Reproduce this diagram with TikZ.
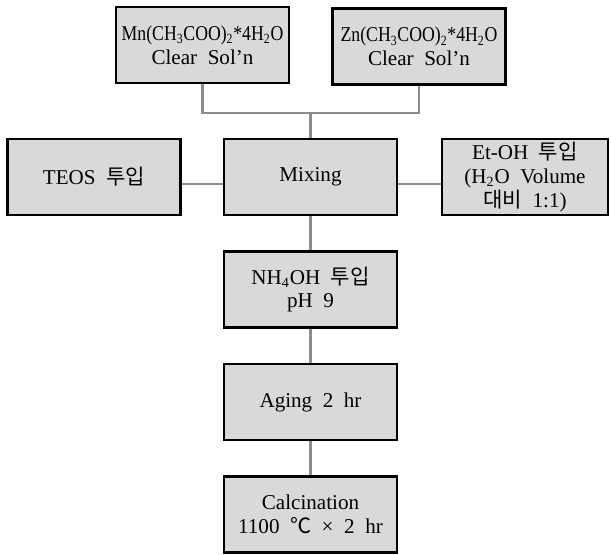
\documentclass[tikz,border=0pt]{standalone}
\usepackage{fontspec}
\usepackage{graphicx}
\setmainfont[WordSpace=2]{Liberation Serif}
\newfontfamily\cjk{Noto Sans CJK KR}
\usetikzlibrary{positioning,calc}
\definecolor{boxgray}{HTML}{D9D9D9}
\definecolor{linkgray}{HTML}{8C8C8C}
\tikzset{
    procbox/.style={draw, fill=boxgray, line width=1.2pt, minimum width=3.46cm, minimum height=1.52cm,
        align=center, inner sep=1pt, font=\fontsize{12}{13.5}\selectfont},
    link/.style={draw=linkgray, line width=1.2pt}
}

\begin{document}
\begin{tikzpicture}
    \useasboundingbox (0,0) rectangle (12.22,-11.08);

    \node[procbox] (mn) at (4.05,-0.9) {\scalebox{0.84}[1]{Mn(CH\textsubscript{3}COO)\textsubscript{2}*4H\textsubscript{2}O}\\Clear Sol’n};
    \node[procbox] (zn) at (8.38,-0.93) {\scalebox{0.84}[1]{Zn(CH\textsubscript{3}COO)\textsubscript{2}*4H\textsubscript{2}O}\\Clear Sol’n};
    \node[procbox] (teos) at (1.88,-3.54) {TEOS {\cjk 투입}};
    \node[procbox, minimum width=3.32cm] (etoh) at (10.5,-3.54) {Et-OH {\cjk 투입}\\(H\textsubscript{2}O Volume\\{\cjk 대비} 1:1)};

    \foreach \i/\txt in {0/Mixing, 1/{NH\textsubscript{4}OH {\cjk 투입}\\pH 9}, 2/Aging 2 hr, 3/{Calcination\\1100 {\cjk ℃} × 2 hr}} {
        \node[procbox] (proc\i) at (6.21,{-3.54-2.25*\i}) {\txt};
    }

    \coordinate (join) at ($(proc0.north)+(0,0.5)$);
    \draw[link] (mn.south) |- (join) -| (zn.south);
    \draw[link] (join) -- (proc0.north);
    \draw[link] ([yshift=-0.14cm]teos.east) -- ([yshift=-0.14cm]proc0.west);
    \draw[link] ([yshift=-0.14cm]proc0.east) -- ([yshift=-0.14cm]etoh.west);
    \draw[link] (proc0) -- (proc1);
    \draw[link] (proc1) -- (proc2);
    \draw[link] (proc2) -- (proc3);
\end{tikzpicture}
\end{document}
